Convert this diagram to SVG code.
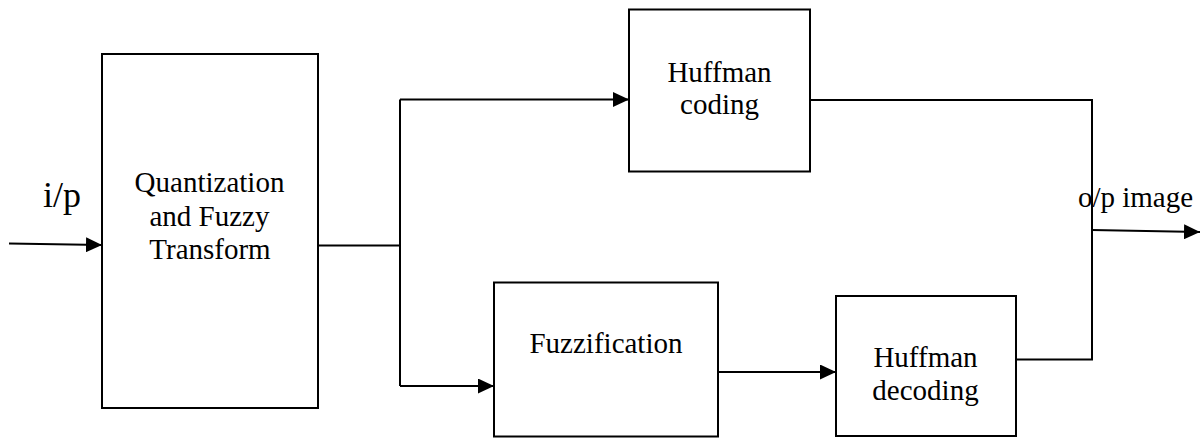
<svg xmlns="http://www.w3.org/2000/svg" width="1201" height="438" viewBox="0 0 1201 438" font-family="'Liberation Serif', 'Times New Roman', serif">
<defs>
<style>
.box{fill:#fff;stroke:#000;stroke-width:2}
.ln{fill:none;stroke:#000;stroke-width:2}
.t{font-family:"Liberation Serif","Times New Roman",serif;font-size:29px;fill:#000;text-anchor:middle}
</style>
<marker id="ah" markerUnits="userSpaceOnUse" markerWidth="17" markerHeight="15" refX="16" refY="7.5" orient="auto">
<path d="M0,0 L16,7.5 L0,15 Z" fill="#000"/>
</marker>
</defs>
<rect width="1201" height="438" fill="#fff"/>
<g id="connectors">
<path class="ln" d="M9,243.5 L102,245" marker-end="url(#ah)"/>
<path class="ln" d="M318,245.5 L400,245.5"/>
<path class="ln" d="M400,99.5 L400,386"/>
<path class="ln" d="M400,99.5 L629,99.5" marker-end="url(#ah)"/>
<path class="ln" d="M400,386 L494,386" marker-end="url(#ah)"/>
<path class="ln" d="M718,372 L836,372" marker-end="url(#ah)"/>
<path class="ln" d="M810,100 L1092,100 L1092,359.5 L1016,359.5"/>
<path class="ln" d="M1092,230 L1200,232" marker-end="url(#ah)"/>
</g>
<g id="label-ip"><text class="t" font-family="'Liberation Serif', serif" x="62" y="207" style="font-size:36px">i/p</text></g>
<g id="label-op"><text class="t" font-family="'Liberation Serif', serif" x="1135.5" y="207">o/p image</text></g>
<g id="quantization" font-family="'Liberation Serif', serif">
<rect class="box" x="102" y="54" width="216" height="354"/>
<text class="t" x="209.5" y="192">Quantization</text>
<text class="t" x="209.5" y="225.5">and Fuzzy</text>
<text class="t" x="210" y="258.5">Transform</text>
</g>
<g id="huffman-coding" font-family="'Liberation Serif', serif">
<rect class="box" x="629" y="9.5" width="181" height="162"/>
<text class="t" x="719.5" y="82">Huffman</text>
<text class="t" x="719.5" y="114">coding</text>
</g>
<g id="fuzzification" font-family="'Liberation Serif', serif">
<rect class="box" x="494" y="282.5" width="224" height="154"/>
<text class="t" x="606" y="353">Fuzzification</text>
</g>
<g id="huffman-decoding" font-family="'Liberation Serif', serif">
<rect class="box" x="836" y="296" width="180" height="140"/>
<text class="t" x="925.5" y="366.5">Huffman</text>
<text class="t" x="925.5" y="400">decoding</text>
</g>
</svg>
